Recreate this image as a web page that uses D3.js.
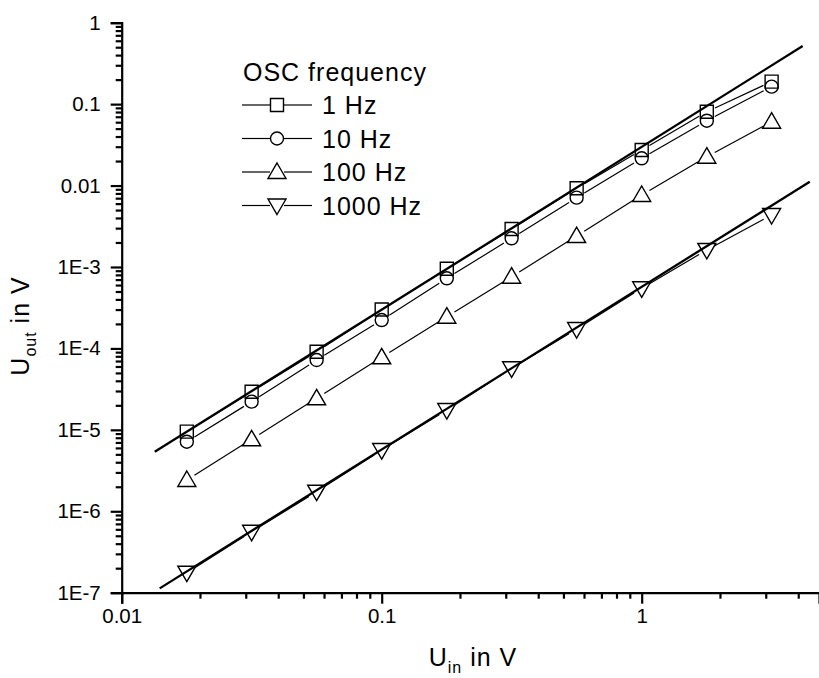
<!DOCTYPE html>
<html><head><meta charset="utf-8">
<script src="https://cdn.jsdelivr.net/npm/d3@7"></script>
<style>
body{margin:0;background:#fff;}
text{font-family:"Liberation Sans",Arial,Helvetica,sans-serif;fill:#000;}
</style></head>
<body>
<svg id="c" width="819" height="678"></svg>
<script>
// ---- data ----
const uin = [0.0178, 0.0316, 0.0562, 0.1, 0.178, 0.316, 0.562, 1, 1.78, 3.16];
const hz1    = [9.5e-6, 2.94e-5, 9.1e-5, 3.0e-4, 9.5e-4, 2.93e-3, 9.25e-3, 0.0273, 0.0807, 0.189];
const hz10   = [7.15e-6, 2.22e-5, 7.2e-5, 2.23e-4, 7.26e-4, 2.25e-3, 7.1e-3, 0.0216, 0.0626, 0.164];
const hz100  = [2.42e-6, 7.65e-6, 2.44e-5, 7.78e-5, 2.45e-4, 7.6e-4, 2.4e-3, 7.66e-3, 0.0226, 0.0608];
const hz1000 = [1.76e-7, 5.6e-7, 1.74e-6, 5.65e-6, 1.75e-5, 5.7e-5, 1.73e-4, 5.47e-4, 1.62e-3, 4.35e-3];
const seriesNames = ["1 Hz", "10 Hz", "100 Hz", "1000 Hz"];
const seriesShapes = ["square", "circle", "triangle", "invtriangle"];
// fitted lines (endpoints)
const fit1x = [0.0134, 4.16], fit1y = [5.37e-6, 0.517];
const fit2x = [0.0140, 4.43], fit2y = [1.13e-7, 0.01115];
const xTickVals = [0.01, 0.1, 1];
const xTickLabels = ["0.01", "0.1", "1"];
const yTickVals = [1, 0.1, 0.01, 1e-3, 1e-4, 1e-5, 1e-6, 1e-7];
const yTickLabels = ["1", "0.1", "0.01", "1E-3", "1E-4", "1E-5", "1E-6", "1E-7"];
const legendTitle = "OSC frequency";

// ---- scales ----
const svg = d3.select("#c");
const X0 = 121.7, DEC_X = 260, Y0 = 592.7, Y1 = 22.7;
const x = d3.scaleLog().domain([0.01, 1]).range([X0, X0 + 2 * DEC_X]);
const xAxisScale = x.copy().domain([0.01, x.invert(819)]).range([X0, 819]);
const y = d3.scaleLog().domain([1e-7, 1]).range([Y0, Y1]);

// ---- axes ----
function minorTicks(lo, hi) {
  const out = [];
  for (let e = Math.floor(Math.log10(lo)); e <= Math.ceil(Math.log10(hi)); e++) {
    for (let m = 1; m <= 9; m++) {
      const v = +(m * Math.pow(10, e)).toPrecision(6);
      if (v >= lo * 0.9999 && v <= hi * 1.0001) out.push(v);
    }
  }
  return out;
}
const isMajor = (v, list) => list.some(t => Math.abs(Math.log10(v) - Math.log10(t)) < 1e-6);

const xAll = minorTicks(0.01, xAxisScale.domain()[1]);
const gx = svg.append("g").attr("transform", `translate(0,${Y0})`)
  .call(d3.axisBottom(xAxisScale).tickValues(xAll).tickSizeOuter(0).tickSize(11)
    .tickFormat(v => { const i = xTickVals.findIndex(t => Math.abs(Math.log10(v) - Math.log10(t)) < 1e-6); return i >= 0 ? xTickLabels[i] : ""; }));
gx.select(".domain").attr("stroke", "#000").attr("stroke-width", 2.2);
gx.selectAll(".tick line").attr("stroke", "#000").attr("stroke-width", 2.2)
  .attr("y2", d => isMajor(d, xTickVals) ? 11 : 6);
gx.selectAll(".tick text").attr("y", 16).attr("dy", "0.71em").style("font-size", "20.5px");

const yAll = minorTicks(1e-7, 1);
const gy = svg.append("g").attr("transform", `translate(${X0},0)`)
  .call(d3.axisLeft(y).tickValues(yAll).tickSizeOuter(0).tickSize(11)
    .tickFormat(v => { const i = yTickVals.findIndex(t => Math.abs(Math.log10(v) - Math.log10(t)) < 1e-6); return i >= 0 ? yTickLabels[i] : ""; }));
gy.select(".domain").attr("stroke", "#000").attr("stroke-width", 2.2);
gy.selectAll(".tick line").attr("stroke", "#000").attr("stroke-width", 2.2)
  .attr("x2", d => isMajor(d, yTickVals) ? -11 : -6);
gy.selectAll(".tick text").attr("x", -21).style("font-size", "20.5px");

// ---- fit lines ----
const line = d3.line().x(d => x(d[0])).y(d => y(d[1]));
svg.append("path").datum(d3.zip(fit1x, fit1y)).attr("d", line)
  .attr("stroke", "#000").attr("stroke-width", 2.3).attr("fill", "none");
svg.append("path").datum(d3.zip(fit2x, fit2y)).attr("d", line)
  .attr("stroke", "#000").attr("stroke-width", 2.3).attr("fill", "none");

// ---- markers ----
function shapePath(shape) {
  switch (shape) {
    case "square": return "M-6.5,-6.5H6.5V6.5H-6.5Z";
    case "circle": return "M6.5,0A6.5,6.5 0 1,1 -6.5,0A6.5,6.5 0 1,1 6.5,0Z";
    case "triangle": return "M0,-9L9,6.5H-9Z";
    case "invtriangle": return "M0,9L9,-6.5H-9Z";
  }
}
const GAP = 9;
const allSeries = [hz1, hz10, hz100, hz1000];
allSeries.forEach((vals, si) => {
  const pts = uin.map((u, i) => [x(u), y(vals[i])]);
  const g = svg.append("g");
  for (let i = 0; i < pts.length - 1; i++) {
    const [x1, y1] = pts[i], [x2, y2] = pts[i + 1];
    const L = Math.hypot(x2 - x1, y2 - y1);
    const ux = (x2 - x1) / L, uy = (y2 - y1) / L;
    g.append("line")
      .attr("x1", x1 + ux * GAP).attr("y1", y1 + uy * GAP)
      .attr("x2", x2 - ux * GAP).attr("y2", y2 - uy * GAP)
      .attr("stroke", "#000").attr("stroke-width", 1.2);
  }
  g.selectAll("path.m").data(pts).join("path").attr("class", "m")
    .attr("transform", d => `translate(${d[0]},${d[1]})`)
    .attr("d", shapePath(seriesShapes[si]))
    .attr("fill", "none").attr("stroke", "#000").attr("stroke-width", 1.4);
});

// ---- legend ----
const lg = svg.append("g");
lg.append("text").attr("x", 243).attr("y", 81).style("font-size", "25px").style("letter-spacing", "1px").text(legendTitle);
const rowY = [105, 138.5, 172, 205.5];
seriesNames.forEach((name, i) => {
  const cy = rowY[i], cx = 277;
  lg.append("line").attr("x1", 242).attr("x2", cx - 7).attr("y1", cy).attr("y2", cy).attr("stroke", "#000").attr("stroke-width", 1.2);
  lg.append("line").attr("x1", cx + 7).attr("x2", 312).attr("y1", cy).attr("y2", cy).attr("stroke", "#000").attr("stroke-width", 1.2);
  lg.append("path").attr("transform", `translate(${cx},${cy})`).attr("d", shapePath(seriesShapes[i]))
    .attr("fill", "#fff").attr("stroke", "#000").attr("stroke-width", 1.4);
  lg.append("text").attr("x", 322).attr("y", cy + 9).style("font-size", "25px").style("letter-spacing", "1px").text(name);
});

// ---- axis titles ----
const xt = svg.append("text").attr("x", 473).attr("y", 666).attr("text-anchor", "middle").style("font-size", "25px").style("letter-spacing", "1px");
xt.append("tspan").text("U");
xt.append("tspan").attr("dy", 7).style("font-size", "16px").text("in");
xt.append("tspan").attr("dy", -7).text(" in V");

const yt = svg.append("text").attr("transform", "translate(29,326) rotate(-90)").attr("text-anchor", "middle").style("font-size", "25px").style("letter-spacing", "1px");
yt.append("tspan").text("U");
yt.append("tspan").attr("dy", 7).style("font-size", "16px").text("out");
yt.append("tspan").attr("dy", -7).text(" in V");
</script>
</body></html>
